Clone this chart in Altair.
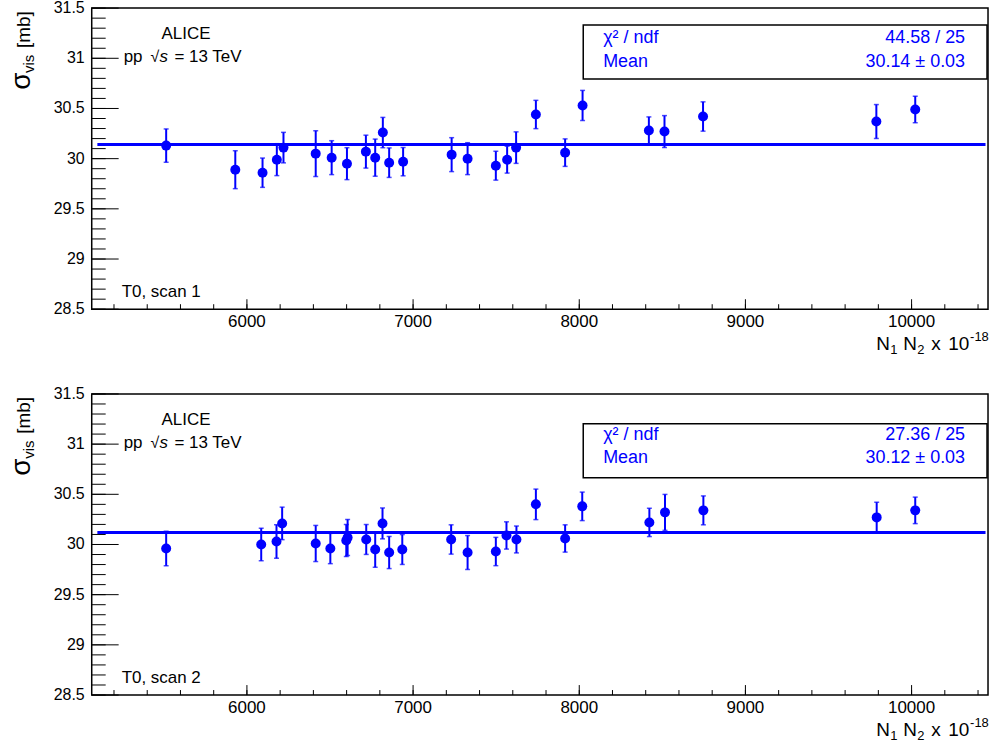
import altair as alt
import pandas as pd

# ---------------- data ----------------
x_scan1 = [5514, 5930, 6094, 6180, 6220, 6414, 6510, 6602, 6716, 6772, 6818, 6856, 6940,
           7232, 7328, 7498, 7566, 7620, 7739, 7915, 8020, 8419, 8513, 8745, 9788, 10022]
y_scan1 = [30.13, 29.89, 29.86, 29.99, 30.11, 30.05, 30.01, 29.95, 30.07, 30.01, 30.26, 29.96, 29.97,
           30.04, 30.00, 29.93, 29.99, 30.11, 30.44, 30.06, 30.53, 30.28, 30.27, 30.42, 30.37, 30.49]
e_scan1 = [0.166, 0.189, 0.146, 0.159, 0.152, 0.228, 0.169, 0.159, 0.164, 0.185, 0.151, 0.147, 0.141,
           0.169, 0.159, 0.144, 0.134, 0.157, 0.141, 0.137, 0.150, 0.136, 0.159, 0.146, 0.169, 0.132]

x_scan2 = [5514, 6086, 6178, 6212, 6414, 6502, 6598, 6606, 6718, 6772, 6816, 6856, 6935,
           7229, 7328, 7498, 7562, 7622, 7739, 7915, 8018, 8422, 8516, 8747, 9790, 10022]
y_scan2 = [29.96, 30.00, 30.03, 30.21, 30.01, 29.96, 30.04, 30.07, 30.05, 29.95, 30.21, 29.92, 29.95,
           30.05, 29.92, 29.93, 30.09, 30.05, 30.40, 30.06, 30.38, 30.22, 30.32, 30.34, 30.27, 30.34]
e_scan2 = [0.172, 0.162, 0.167, 0.162, 0.180, 0.151, 0.160, 0.180, 0.149, 0.177, 0.154, 0.160, 0.149,
           0.146, 0.169, 0.141, 0.136, 0.134, 0.152, 0.136, 0.142, 0.141, 0.179, 0.144, 0.151, 0.132]

fit_means = [30.14, 30.12]
fit_range = [5100, 10445]
chi2_texts = ["44.58 / 25", "27.36 / 25"]
mean_texts = ["30.14 \u00b1 0.03", "30.12 \u00b1 0.03"]
scan_labels = ["T0, scan 1", "T0, scan 2"]

x_major = [6000, 7000, 8000, 9000, 10000]
x_major_labels = ["6000", "7000", "8000", "9000", "10000"]
x_minor = list(range(5200, 10401, 200))
y_major = [28.5, 29.0, 29.5, 30.0, 30.5, 31.0, 31.5]
y_major_labels = ["28.5", "29", "29.5", "30", "30.5", "31", "31.5"]
y_minor = [round(28.5 + 0.1 * i, 1) for i in range(31)]

X_DOMAIN = [5066, 10460]
Y_DOMAIN = [28.5, 31.5]

# ---------------- style ----------------
FONT = "Liberation Sans"
BLUE = "#0000ff"
W, H = 899, 302


def txt(text, x, y, size=17, color="black", align="left", baseline="middle",
        angle=0, style="normal"):
    kw = dict(text=text, font=FONT, fontSize=size, color=color, align=align,
              baseline=baseline, fontStyle=style)
    if angle:
        kw["angle"] = angle
    return alt.Chart(pd.DataFrame({"a": [0]})).mark_text(**kw).encode(
        x=alt.value(x), y=alt.value(y))


def panel(xs, ys, es, mean, chi2, mtxt, scan, box_top, chi_y, mean_y):
    df = pd.DataFrame({"x": xs, "y": ys,
                       "lo": [a - b for a, b in zip(ys, es)],
                       "hi": [a + b for a, b in zip(ys, es)]})
    xsc = alt.Scale(domain=X_DOMAIN, nice=False, zero=False)
    ysc = alt.Scale(domain=Y_DOMAIN, nice=False, zero=False)
    X = lambda f: alt.X(f, scale=xsc, axis=None)
    Y = lambda f: alt.Y(f, scale=ysc, axis=None)

    anchor = alt.Chart(pd.DataFrame({"a": [0]})).mark_rule(opacity=0).encode(
        x=alt.value(-91), x2=alt.value(-91), y=alt.value(-8), y2=alt.value(H + 54))

    ytick_major = alt.Chart(pd.DataFrame({"v": y_major})).mark_rule(
        color="black", strokeWidth=1).encode(y=Y("v:Q"), x=alt.value(0), x2=alt.value(27))
    ytick_minor = alt.Chart(pd.DataFrame({"v": y_minor})).mark_rule(
        color="black", strokeWidth=1).encode(y=Y("v:Q"), x=alt.value(0), x2=alt.value(14))
    xtick_major = alt.Chart(pd.DataFrame({"v": x_major})).mark_rule(
        color="black", strokeWidth=1).encode(x=X("v:Q"), y=alt.value(H), y2=alt.value(H - 10))
    xtick_minor = alt.Chart(pd.DataFrame({"v": x_minor})).mark_rule(
        color="black", strokeWidth=1).encode(x=X("v:Q"), y=alt.value(H), y2=alt.value(H - 5))

    ylabels = alt.Chart(pd.DataFrame({"v": y_major, "t": y_major_labels})).mark_text(
        font=FONT, fontSize=16, color="black", align="right", baseline="middle").encode(
        y=Y("v:Q"), x=alt.value(-7), text="t:N")
    xlabels = alt.Chart(pd.DataFrame({"v": x_major, "t": x_major_labels})).mark_text(
        font=FONT, fontSize=17, color="black", align="center", baseline="top").encode(
        x=X("v:Q"), y=alt.value(H + 5), text="t:N")

    fit = alt.Chart(pd.DataFrame({"x": fit_range, "y": [mean, mean]})).mark_line(
        color=BLUE, strokeWidth=3).encode(x=X("x:Q"), y=Y("y:Q"))

    base = alt.Chart(df)
    bars = base.mark_rule(color=BLUE, strokeWidth=2).encode(
        x=X("x:Q"), y=Y("lo:Q"), y2="hi:Q")
    cap_lo = base.mark_tick(color=BLUE, orient="horizontal", size=5, thickness=1.5).encode(
        x=X("x:Q"), y=Y("lo:Q"))
    cap_hi = base.mark_tick(color=BLUE, orient="horizontal", size=5, thickness=1.5).encode(
        x=X("x:Q"), y=Y("hi:Q"))
    pts = base.mark_circle(color=BLUE, opacity=1, size=100).encode(x=X("x:Q"), y=Y("y:Q"))

    box = alt.Chart(pd.DataFrame({"a": [0]})).mark_rect(
        fill="white", stroke="black", strokeWidth=1.5).encode(
        x=alt.value(493), x2=alt.value(898), y=alt.value(box_top), y2=alt.value(box_top + 54))

    layers = [anchor, ytick_minor, ytick_major, xtick_minor, xtick_major, ylabels, xlabels,
              fit, bars, cap_lo, cap_hi, pts, box,
              txt("\u03c7\u00b2 / ndf", 513, chi_y, size=18, color=BLUE),
              txt("Mean", 513, mean_y, size=18, color=BLUE),
              txt(chi2, 876, chi_y, size=18, color=BLUE, align="right"),
              txt(mtxt, 876, mean_y, size=18, color=BLUE, align="right"),
              txt("ALICE", 70, 26, size=17),
              txt("pp", 32, 49, size=17),
              txt("\u221a", 59, 49, size=16),
              txt("s", 68, 49, size=17, style="italic"),
              txt("= 13 TeV", 83, 49, size=17),
              txt(scan, 30, 285, size=17),
              # y title: sigma_vis [mb]
              txt("\u03c3", -62, 82, size=28, baseline="alphabetic", angle=270),
              txt("vis", -58, 65, size=15, baseline="alphabetic", angle=270),
              txt("[mb]", -62, 40, size=19, baseline="alphabetic", angle=270),
              # x title: N1 N2 x 10^-18
              txt("N", 787, 343, size=19, baseline="alphabetic"),
              txt("1", 801, 347, size=13, baseline="alphabetic"),
              txt("N", 814, 343, size=19, baseline="alphabetic"),
              txt("2", 828, 347, size=13, baseline="alphabetic"),
              txt("x", 842, 343, size=19, baseline="alphabetic"),
              txt("10", 859, 343, size=19, baseline="alphabetic"),
              txt("-18", 881, 334, size=13, baseline="alphabetic"),
              ]
    return alt.layer(*layers).properties(width=W, height=H)


p1 = panel(x_scan1, y_scan1, e_scan1, fit_means[0], chi2_texts[0], mean_texts[0],
           scan_labels[0], 17, 30, 54)
p2 = panel(x_scan2, y_scan2, e_scan2, fit_means[1], chi2_texts[1], mean_texts[1],
           scan_labels[1], 30, 41, 64)

chart = alt.vconcat(p1, p2, spacing=21).properties(
    padding={"left": 0, "top": -2, "right": 0, "bottom": 0},
    background="white").configure_view(stroke="black", strokeWidth=1.5)

chart.save("out.html", embed_options={"renderer": "svg", "actions": False})
